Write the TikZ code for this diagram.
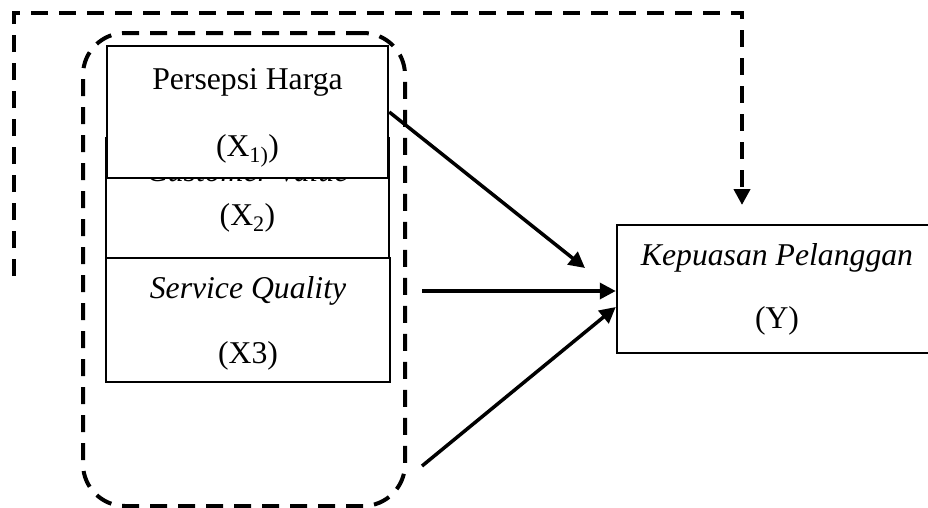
\documentclass[tikz,border=0pt]{standalone}
\usepackage{fontspec}
\setmainfont{Liberation Serif}
\usetikzlibrary{arrows.meta,positioning}
\tikzstyle{kotak} = [draw, line width=2.5pt, rectangle, inner sep=0pt, align=center, font=\fontsize{31.7}{38}\selectfont]
\tikzstyle{garisputus} = [line width=4pt, dash pattern=on 17pt off 11pt]
\tikzstyle{panah} = [line width=3.5pt, -{Triangle[length=16pt,width=16pt]}]

\begin{document}
\begin{tikzpicture}[x=1pt,y=-1pt]
	\useasboundingbox (0,0) rectangle (928,507);
	\clip (0,0) rectangle (928,507);
	\node [garisputus, draw, rounded corners=42pt, minimum width=322pt, minimum height=473pt] (grup) at (244,269.5) {};
	\node [kotak, text depth=12pt, minimum width=283pt, minimum height=120pt] (x2) at (247.5,198) {\textit{Customer Value}\\[6pt](X\textsubscript{2})};
	\node [kotak, fill=white, text depth=0pt, minimum width=281pt, minimum height=132pt] (x1) at (247.5,112) {Persepsi Harga\\[29pt](X\textsubscript{1)})};
	\node [kotak, text depth=0pt, minimum width=284pt, minimum height=124pt] (x3) at (248,320) {\textit{Service Quality}\\[27pt](X3)};
	\node [kotak, minimum width=320pt, minimum height=128pt] (y) at (777,289) {\textit{Kepuasan Pelanggan}\\[25pt](Y)};
	\coordinate (kiri) at (14,276);
	\coordinate (sudut) at (742,13);
	\coordinate (atas) at (742,205);
	\coordinate (ujung1) at (585,268);
	\coordinate (awal2) at (422,291);
	\coordinate (awal3) at (422,466);
	\draw [garisputus, -{Triangle[length=16pt,width=16pt]}] (kiri) |- (sudut) -- (atas);
	\draw [panah] (x1.east) -- (ujung1);
	\draw [panah] (awal2) -- (awal2 -| y.west);
	\draw [panah] (awal3) -- ([yshift=-18pt]y.west);
\end{tikzpicture}
\end{document}
